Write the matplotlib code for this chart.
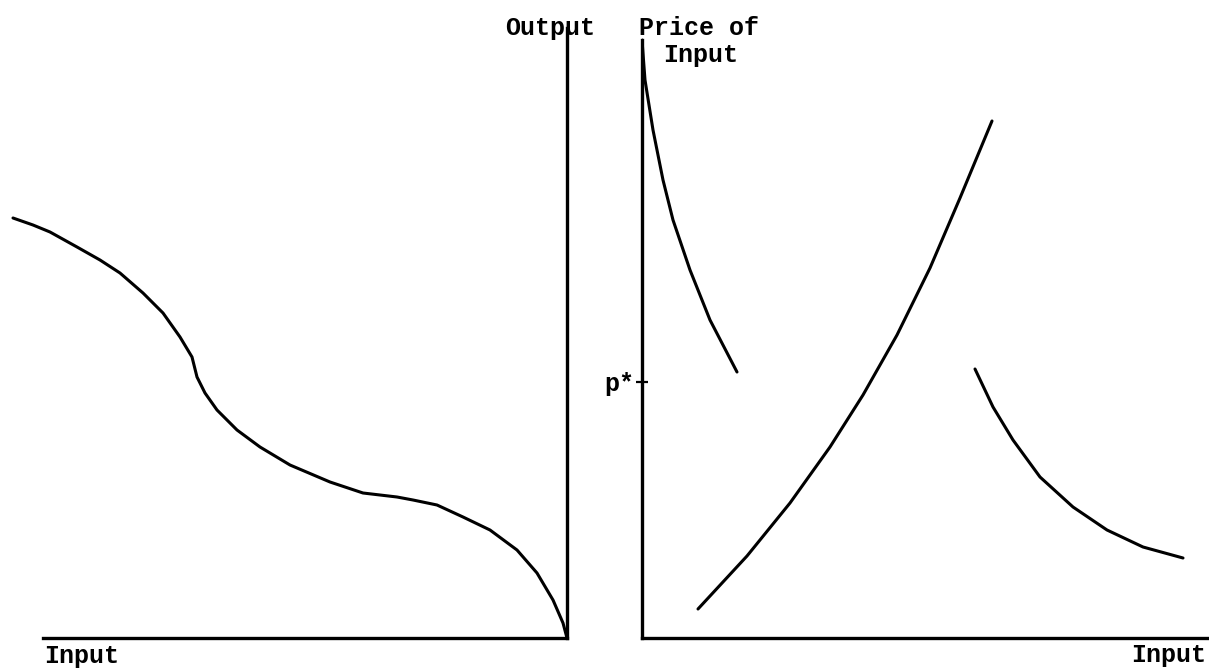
"""Two-panel input/output and input-price sketch (typewriter style)."""

import matplotlib
matplotlib.use("Agg")
import matplotlib.pyplot as plt

# ── Left panel: output vs input (input grows to the left) ────────────────────
left_input = [55.4, 53.4, 51.7, 49.0, 46.7, 44.7, 42.4, 40.4, 38.7, 37.5,
              37.0, 36.2, 35.0, 33.0, 30.7, 27.7, 23.7, 20.4, 17.0, 15.4,
              13.0, 10.4, 7.7, 5.0, 3.0, 1.4, 0.4, 0.0]
left_output = [42.0, 41.3, 40.6, 39.1, 37.8, 36.5, 34.5, 32.5, 30.1, 28.1,
               26.1, 24.5, 22.8, 20.8, 19.1, 17.3, 15.6, 14.5, 14.1, 13.8,
               13.3, 12.1, 10.8, 8.8, 6.5, 3.8, 1.5, 0.0]

# ── Right panel: price of input vs input ─────────────────────────────────────
steep_x = [0.0, 0.3, 1.1, 2.1, 3.1, 4.8, 6.8, 9.5]
steep_y = [59.8, 55.8, 50.8, 45.8, 41.8, 36.8, 31.8, 26.6]

rise_x = [5.6, 10.5, 14.8, 18.8, 22.1, 25.5, 28.8, 31.8, 35.0]
rise_y = [2.9, 8.2, 13.5, 19.1, 24.3, 30.3, 37.0, 44.0, 51.7]

fall_x = [33.3, 35.1, 37.1, 39.8, 43.1, 46.5, 50.1, 54.1]
fall_y = [26.9, 23.1, 19.8, 16.1, 13.1, 10.8, 9.1, 8.0]

P_STAR = 25.6
P_LABEL = "p*"

W, H = 1209, 671
FONT = dict(family="Liberation Mono", fontweight="bold", fontsize=18, color="black")
AX_LW = 2.4
CURVE_LW = 2.2
LINE = dict(color="black", linewidth=CURVE_LW, solid_capstyle="round",
            solid_joinstyle="round")


def main():
    fig = plt.figure(figsize=(W / 100, H / 100), dpi=100)
    fig.patch.set_facecolor("white")

    # left axes: px 0..567 wide, baseline at py 638
    axl = fig.add_axes([0 / W, 33 / H, 567 / W, 638 / H])
    axl.plot(left_input, left_output, **LINE)
    axl.set_xlim(56.7, 0)
    axl.set_ylim(0, 63.8)
    for side in ("left", "top"):
        axl.spines[side].set_visible(False)
    axl.spines["bottom"].set_bounds(0, 52.4)
    axl.spines["right"].set_bounds(0, 61.0)
    for side in ("bottom", "right"):
        axl.spines[side].set_linewidth(AX_LW)
    axl.set_xticks([])
    axl.set_yticks([])
    axl.patch.set_alpha(0)

    # right axes: px 642..1209 wide
    axr = fig.add_axes([642 / W, 33 / H, 567 / W, 638 / H])
    for xs, ys in ((steep_x, steep_y), (rise_x, rise_y), (fall_x, fall_y)):
        axr.plot(xs, ys, **LINE)
    axr.set_xlim(0, 56.7)
    axr.set_ylim(0, 63.8)
    for side in ("right", "top"):
        axr.spines[side].set_visible(False)
    axr.spines["left"].set_bounds(0, 59.8)
    for side in ("bottom", "left"):
        axr.spines[side].set_linewidth(AX_LW)
    axr.set_xticks([])
    axr.set_yticks([P_STAR])
    axr.set_yticklabels([P_LABEL], **FONT)
    axr.tick_params(axis="y", direction="inout", length=9, width=1.6, pad=1)
    axr.patch.set_alpha(0)

    # labels
    fig.text(550 / W, 1 - 28 / H, "Output", ha="center", va="center", **FONT)
    fig.text(699 / W, 1 - 28 / H, "Price of", ha="center", va="center", **FONT)
    fig.text(701 / W, 1 - 55 / H, "Input", ha="center", va="center", **FONT)
    fig.text(44 / W, 1 - 656 / H, "Input", ha="left", va="center", **FONT)
    fig.text(1206 / W, 1 - 655 / H, "Input", ha="right", va="center", **FONT)

    fig.savefig("out.png", dpi=100, facecolor="white")


if __name__ == "__main__":
    main()
